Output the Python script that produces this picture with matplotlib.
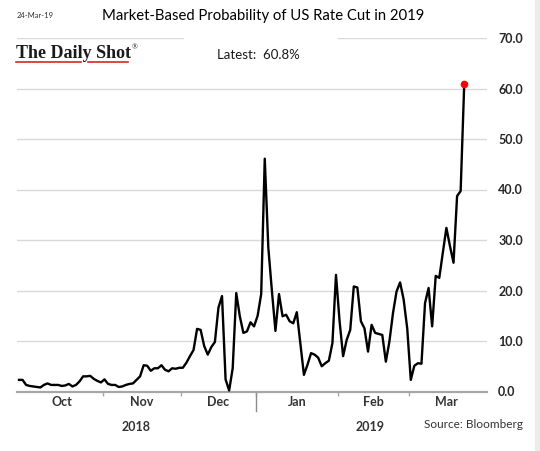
import numpy as np
import pandas as pd
import matplotlib
matplotlib.use("Agg")
import matplotlib.pyplot as plt
from matplotlib.lines import Line2D
from matplotlib.patches import Rectangle

# business days, Sep 28 2018 - Mar 22 2019
dates = pd.bdate_range("2018-09-28", "2019-03-22")

probability = [
    2.3, 2.3, 1.3, 1.1, 1.0, 0.9, 0.8, 1.3, 1.6, 1.3,
    1.3, 1.3, 1.1, 1.2, 1.5, 1.0, 1.3, 2.0, 3.0, 3.0,
    3.1, 2.5, 2.1, 1.8, 2.4, 1.5, 1.3, 1.3, 0.9, 1.0,
    1.3, 1.5, 1.6, 2.3, 3.0, 5.2, 5.1, 4.1, 4.6, 4.6,
    5.2, 4.3, 4.0, 4.6, 4.5, 4.7, 4.7,
    5.7, 7.0, 8.2, 12.4, 12.2, 9.0, 7.3, 8.8, 9.8, 16.6,
    18.9, 2.4, 0.2, 4.6, 19.5, 14.9, 11.6, 11.9, 13.7, 12.9,
    15.0, 19.3, 46.1,
    28.5, 20.0, 12.0, 19.3, 14.9, 15.2, 13.9, 13.5, 15.7, 9.5,
    3.3, 5.3, 7.6, 7.3, 6.7, 5.0, 5.6, 6.1, 9.6, 23.1,
    14.0, 7.0, 10.2, 12.2, 20.8, 20.6, 13.9, 12.5, 7.9, 13.2,
    11.6, 11.4, 11.2, 5.9, 9.9, 15.5, 19.8, 21.6, 18.2, 12.5,
    2.3, 5.1, 5.6, 5.5, 17.5, 20.5, 12.9, 22.9, 22.5, 27.5,
    32.4, 28.8, 25.5, 38.7, 39.7, 60.8,
]

yticks = [0, 10, 20, 30, 40, 50, 60, 70]

plt.rcParams["font.family"] = ["Lato", "DejaVu Sans"]

x = np.arange(len(dates))

fig = plt.figure(figsize=(5.4, 4.51), dpi=100)
ax = fig.add_axes([17 / 540, 59.5 / 451, 470 / 540, 353.5 / 451])

# gridlines (the top one is broken by the header)
for v in yticks[1:-1]:
    ax.axhline(v, color="#d9d9d9", lw=1, zorder=0)
ax.axhline(70, xmin=0, xmax=0.353, color="#d9d9d9", lw=1, zorder=0)
ax.axhline(70, xmin=0.683, xmax=1, color="#d9d9d9", lw=1, zorder=0)

ax.plot(x, probability, color="black", lw=1.7, zorder=3)
ax.plot(x[-1], probability[-1], "o", color="red", ms=4.5, zorder=4)

ax.set_xlim(-0.56, 131.4)
ax.set_ylim(0, 70)

for s in ["top", "left", "right"]:
    ax.spines[s].set_visible(False)
ax.spines["bottom"].set_color("#a6a6a6")
ax.spines["bottom"].set_linewidth(1.6)

ax.yaxis.tick_right()
ax.set_yticks(yticks)
ax.set_yticklabels(["%.1f" % v for v in yticks], fontsize=9,
                   fontweight="bold", color="#262626")
ax.tick_params(axis="y", length=0, pad=8)

# month boundaries
month_start = [i for i in range(1, len(dates)) if dates[i].month != dates[i - 1].month]
bounds = [i - 0.5 for i in month_start[1:]]
ax.set_xticks(bounds)
ax.set_xticklabels([])
ax.tick_params(axis="x", length=3, color="#a6a6a6", width=1)

xt = ax.get_xaxis_transform()
year_bound = None
for i in month_start:
    d = dates[i]
    if d.month == 1:
        year_bound = i - 0.5
    full = pd.bdate_range(d, d + pd.offsets.MonthEnd(0))
    center = i - 0.5 + len(full) / 2
    ax.text(center, -0.03, d.strftime("%b"), transform=xt, ha="center",
            va="center", fontsize=9, fontweight="bold", color="#333333")

ax.plot([year_bound, year_bound], [0, -0.054], transform=xt, clip_on=False,
        color="#8c8c8c", lw=1)

last_start = month_start[-1]
mar_full = pd.bdate_range(dates[last_start], dates[last_start] + pd.offsets.MonthEnd(0))
end_bound = last_start - 0.5 + len(mar_full)
ax.text((ax.get_xlim()[0] + year_bound) / 2, -0.1, "2018", transform=xt,
        ha="center", va="center", fontsize=9, fontweight="bold", color="#333333")
ax.text((year_bound + end_bound) / 2, -0.1, "2019", transform=xt,
        ha="center", va="center", fontsize=9, fontweight="bold", color="#333333")

# header / footer text
fig.text(263 / 540, 1 - 16 / 451, "Market-Based Probability of US Rate Cut in 2019",
         ha="center", va="center", fontsize=10.7, color="black")
fig.text(17 / 540, 1 - 16 / 451, "24-Mar-19", ha="left", va="center",
         fontsize=5.5, color="#333333")
logo = fig.text(16 / 540, 1 - 58 / 451, "The Daily Shot", ha="left", va="baseline",
                fontsize=13, fontweight="bold", family="Liberation Serif",
                color="#1a1a1a")
r = fig.canvas.get_renderer()
lx1 = logo.get_window_extent(r).x1
fig.text((lx1 + 1) / 540, 1 - 47 / 451, "®", ha="left", va="center", fontsize=5.5,
         family="Liberation Serif", color="#1a1a1a")
for x0, x1 in [(16, 81), (88, lx1 - 3)]:
    fig.add_artist(Line2D([x0 / 540, x1 / 540], [1 - 62 / 451, 1 - 62 / 451],
                          transform=fig.transFigure, color="#d62728", lw=1.2))
fig.text(217 / 540, 1 - 55 / 451, "Latest:  %.1f%%" % probability[-1],
         ha="left", va="center", fontsize=9.5, color="#1a1a1a")
fig.text(523 / 540, 1 - 425 / 451, "Source: Bloomberg", ha="right", va="center",
         fontsize=8.5, color="#333333")

fig.patches.append(Rectangle((535 / 540, 0), 5 / 540, 1, transform=fig.transFigure,
                             color="#ececec", zorder=0))

fig.savefig("out.png", dpi=100)
